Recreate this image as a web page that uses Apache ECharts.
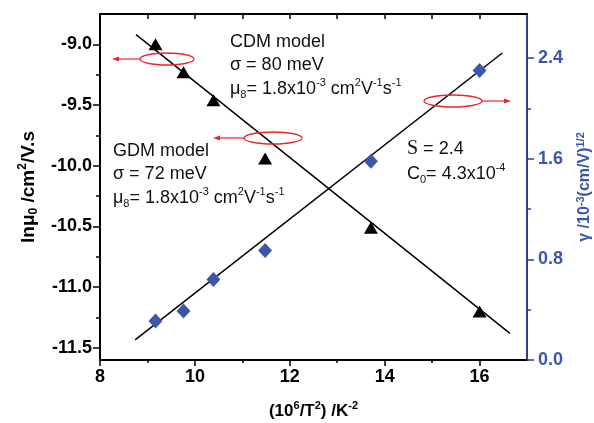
<!DOCTYPE html>
<html>
<head>
<meta charset="utf-8">
<script src="https://cdn.jsdelivr.net/npm/echarts@6/dist/echarts.min.js"></script>
<style>
  html, body { margin: 0; padding: 0; background: #fff; }
  #chart { width: 594px; height: 423px; }
</style>
</head>
<body>
<div id="chart"></div>
<script>
// Inverse squared temperature (10^6/T^2, K^-2)
const invT2 = [9.17, 9.76, 10.39, 11.48, 13.71, 16.0];
// ln(mu0) of the zero-field mobility, cm^2/V.s
const lnMu0 = [-9.00, -9.23, -9.46, -9.94, -10.51, -11.20];
// Field-activation factor gamma, 10^-3 (cm/V)^1/2
const gamma = [0.31, 0.39, 0.64, 0.87, 1.58, 2.30];

// Linear fits (end points of each fitted line)
const lnFitX = [8.76, 16.64];
const lnFitY = [-8.92, -11.38];
const gFitX = [8.74, 16.48];
const gFitY = [0.16, 2.44];

// Tick positions
const xMajor = [8, 10, 12, 14, 16];
const xMinor = [9, 11, 13, 15];
const lnMajor = [-11.5, -11.0, -10.5, -10.0, -9.5, -9.0];
const lnMinor = [-11.25, -10.75, -10.25, -9.75, -9.25];
const gMajor = [0, 0.8, 1.6, 2.4];
const gMinor = [0.4, 1.2, 2.0];

const FONT = 'Liberation Sans, Arial, Helvetica, sans-serif';
const BLUE = '#2e3f94';
const DIAMOND = '#3b57a8';
const RED = '#e8262b';

const chart = echarts.init(document.getElementById('chart'), null, { renderer: 'canvas' });

const boldLabel = (color) => ({
  fontFamily: FONT, fontWeight: 'bold', fontSize: 18, color: color
});

function minorAxis(base) {
  return Object.assign({
    type: 'value',
    axisLine: { show: false, onZero: false },
    axisLabel: { show: false },
    splitLine: { show: false }
  }, base);
}

const option = {
  animation: false,
  backgroundColor: '#fff',
  grid: { left: 100, top: 14, right: 67, bottom: 63, containLabel: false, outerBoundsMode: 'none' },
  xAxis: [
    {
      type: 'value', position: 'bottom', min: 8, max: 17,
      axisLine: { onZero: false, lineStyle: { color: '#000', width: 2 } },
      axisTick: { customValues: xMajor, length: 6, lineStyle: { color: '#000', width: 1.5 } },
      axisLabel: Object.assign({ customValues: xMajor, margin: 8, formatter: v => String(v) }, boldLabel('#000')),
      splitLine: { show: false },
      name: '(10{sup|6}/T{sup|2}) /K{sup|-2}',
      nameLocation: 'middle', nameGap: 40,
      nameTextStyle: {
        fontFamily: FONT, fontWeight: 'bold', fontSize: 17, color: '#000',
        rich: { sup: { fontFamily: FONT, fontWeight: 'bold', fontSize: 11, verticalAlign: 'top', lineHeight: 22, color: '#000' } }
      }
    },
    minorAxis({
      position: 'bottom', min: 8, max: 17,
      axisTick: { customValues: xMinor, length: 3, lineStyle: { color: '#000', width: 1.5 } }
    }),
    minorAxis({
      position: 'top', min: 8, max: 17,
      axisLine: { show: true, onZero: false, lineStyle: { color: '#000', width: 2 } },
      axisTick: { customValues: xMajor.concat(xMinor), inside: true, length: 5, lineStyle: { color: '#000', width: 1.5 } }
    })
  ],
  yAxis: [
    {
      type: 'value', position: 'left', min: -11.6, max: -8.75,
      axisLine: { onZero: false, lineStyle: { color: '#000', width: 2 } },
      axisTick: { customValues: lnMajor, length: 7, lineStyle: { color: '#000', width: 1.5 } },
      axisLabel: Object.assign({ customValues: lnMajor, margin: 8, formatter: v => v.toFixed(1) }, boldLabel('#000')),
      splitLine: { show: false },
      name: 'ln\u03bc{sub|0} /cm{sup|2}/V.s',
      nameLocation: 'middle', nameRotate: 90, nameGap: 54,
      nameTextStyle: {
        fontFamily: FONT, fontWeight: 'bold', fontSize: 19, color: '#000',
        rich: {
          sup: { fontFamily: FONT, fontWeight: 'bold', fontSize: 12, verticalAlign: 'top', lineHeight: 23, color: '#000' },
          sub: { fontFamily: FONT, fontWeight: 'bold', fontSize: 12, verticalAlign: 'bottom', lineHeight: 23, color: '#000' }
        }
      }
    },
    minorAxis({
      position: 'left', min: -11.6, max: -8.75,
      axisTick: { customValues: lnMinor, length: 4, lineStyle: { color: '#000', width: 1.5 } }
    }),
    {
      type: 'value', position: 'right', min: 0, max: 2.75,
      axisLine: { onZero: false, lineStyle: { color: BLUE, width: 2 } },
      axisTick: { customValues: gMajor, length: 7, lineStyle: { color: BLUE, width: 1.5 } },
      axisLabel: Object.assign({ customValues: gMajor, margin: 11, formatter: v => v.toFixed(1) }, boldLabel(DIAMOND)),
      splitLine: { show: false },
      name: '\u03b3 /10{sup|-3}(cm/V){sup|1/2}',
      nameLocation: 'middle', nameRotate: 90, nameGap: 48,
      nameTextStyle: {
        fontFamily: FONT, fontWeight: 'bold', fontSize: 16, color: DIAMOND,
        rich: { sup: { fontFamily: FONT, fontWeight: 'bold', fontSize: 11, verticalAlign: 'top', lineHeight: 20, color: DIAMOND } }
      }
    },
    minorAxis({
      position: 'right', min: 0, max: 2.75,
      axisTick: { customValues: gMinor, length: 4, lineStyle: { color: BLUE, width: 1.5 } }
    })
  ],
  series: [
    {
      type: 'line', xAxisIndex: 0, yAxisIndex: 0,
      data: lnFitX.map((x, i) => [x, lnFitY[i]]),
      symbol: 'none', lineStyle: { color: '#000', width: 1.5 }, z: 2, silent: true
    },
    {
      type: 'line', xAxisIndex: 0, yAxisIndex: 2,
      data: gFitX.map((x, i) => [x, gFitY[i]]),
      symbol: 'none', lineStyle: { color: '#000', width: 1.5 }, z: 2, silent: true
    },
    {
      type: 'scatter', xAxisIndex: 0, yAxisIndex: 0,
      data: invT2.map((x, i) => [x, lnMu0[i]]),
      symbol: 'triangle', symbolSize: [14, 12],
      itemStyle: { color: '#000', opacity: 1 }, z: 3
    },
    {
      type: 'scatter', xAxisIndex: 0, yAxisIndex: 2,
      data: invT2.map((x, i) => [x, gamma[i]]),
      symbol: 'diamond', symbolSize: [14, 15],
      itemStyle: { color: DIAMOND, opacity: 1 }, z: 3
    }
  ]
};

chart.setOption(option);

// Annotation text blocks and red markers pointing to the axes
const txtRich = {
  sup: { fontFamily: FONT, fontSize: 11, verticalAlign: 'top', lineHeight: 23, fill: '#111' },
  sub: { fontFamily: FONT, fontSize: 11, verticalAlign: 'bottom', lineHeight: 23, fill: '#111' },
  serif: { fontFamily: 'Liberation Serif, Times New Roman, serif', fontSize: 20, lineHeight: 23, fill: '#111' }
};

function label(x, y, text) {
  return {
    type: 'text', x: x, y: y, z: 10,
    style: {
      text: text, fontFamily: FONT, fontSize: 18, fill: '#111',
      verticalAlign: 'middle', align: 'left', lineHeight: 23, rich: txtRich
    }
  };
}

function marker(cx, cy, rx, tipX) {
  const dir = tipX < cx ? -1 : 1;
  const startX = cx + dir * rx;
  return [
    { type: 'ellipse', z: 10, shape: { cx: cx, cy: cy, rx: rx, ry: 6 },
      style: { fill: 'none', stroke: RED, lineWidth: 1.3 } },
    { type: 'line', z: 10, shape: { x1: startX, y1: cy, x2: tipX - dir * 5, y2: cy },
      style: { stroke: RED, lineWidth: 1.2 } },
    { type: 'polygon', z: 10, shape: { points: [[tipX, cy], [tipX - dir * 7, cy - 2.5], [tipX - dir * 7, cy + 2.5]] },
      style: { fill: RED } }
  ];
}

chart.setOption({
  graphic: [
    label(230, 42, 'CDM model'),
    label(230, 65, '\u03c3 = 80 meV'),
    label(230, 89, '\u03bc{sub|8}= 1.8x10{sup|-3} cm{sup|2}V{sup|-1}s{sup|-1}'),
    label(113, 151, 'GDM model'),
    label(113, 174, '\u03c3 = 72 meV'),
    label(113, 198, '\u03bc{sub|8}= 1.8x10{sup|-3} cm{sup|2}V{sup|-1}s{sup|-1}'),
    label(407, 149, '{serif|S} = 2.4'),
    label(407, 174, 'C{sub|0}= 4.3x10{sup|-4}')
  ].concat(
    marker(167, 59, 27, 112),
    marker(273, 138, 29, 213),
    marker(453, 101, 29, 511)
  )
});
</script>
</body>
</html>
